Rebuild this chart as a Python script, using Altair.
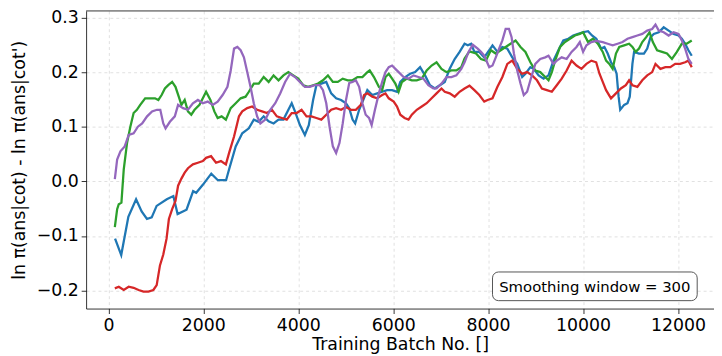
import altair as alt
import pandas as pd

# ---- data ----
blue_x = [140, 270, 420, 583, 700, 812, 912, 1016, 1230, 1368,
          1458, 1646, 1785, 1850, 1993, 2167, 2306, 2479, 2543, 2682,
          2820, 2959, 3063, 3167, 3271, 3376, 3480, 3584, 3688, 3792,
          3862, 3931, 4035, 4139, 4222, 4313, 4382, 4486, 4590, 4694,
          4798, 4902, 5006, 5074, 5144, 5199, 5283, 5456, 5560, 5664,
          5768, 5873, 5977, 6081, 6150, 6254, 6358, 6463, 6567, 6671,
          6775, 6879, 6983, 7087, 7191, 7296, 7400, 7504, 7573, 7642,
          7711, 7815, 7919, 8024, 8093, 8197, 8301, 8405, 8509, 8614,
          8718, 8787, 8891, 8961, 9065, 9169, 9273, 9377, 9481, 9585,
          9690, 9794, 9898, 10002, 10106, 10189, 10280, 10381, 10451, 10520,
          10590, 10659, 10708, 10750, 10784, 10867, 10937, 10985, 11041, 11076,
          11180, 11284, 11353, 11423, 11492, 11596, 11700, 11804, 11909, 12013,
          12082, 12152, 12221, 12291]
blue_y = [-0.105, -0.135, -0.065, -0.033, -0.055, -0.069, -0.066, -0.045, -0.033, -0.027,
          -0.06, -0.052, -0.018, -0.021, -0.006, 0.014, 0.002, 0.002, 0.022, 0.064,
          0.088, 0.097, 0.113, 0.109, 0.119, 0.11, 0.106, 0.113, 0.113, 0.131,
          0.143, 0.128, 0.103, 0.085, 0.103, 0.149, 0.176, 0.179, 0.182, 0.161,
          0.152, 0.149, 0.143, 0.134, 0.113, 0.106, 0.131, 0.167, 0.158, 0.161,
          0.164, 0.167, 0.167, 0.164, 0.182, 0.191, 0.197, 0.2, 0.209, 0.194,
          0.176, 0.17, 0.176, 0.182, 0.206, 0.224, 0.237, 0.252, 0.249, 0.252,
          0.237, 0.237, 0.227, 0.24, 0.249, 0.237, 0.246, 0.243, 0.227, 0.215,
          0.191, 0.197, 0.209, 0.206, 0.194, 0.188, 0.194, 0.221, 0.24, 0.258,
          0.261, 0.267, 0.27, 0.273, 0.275, 0.267, 0.261, 0.243, 0.246, 0.234,
          0.218, 0.209, 0.197, 0.155, 0.131, 0.14, 0.143, 0.155, 0.215, 0.237,
          0.234, 0.234, 0.243, 0.264, 0.27, 0.273, 0.282, 0.276, 0.27, 0.267,
          0.261, 0.252, 0.24, 0.23]

green_x = [135, 184, 218, 274, 323, 392, 462, 531, 600, 670,
           774, 878, 982, 1052, 1121, 1190, 1260, 1343, 1413, 1482,
           1538, 1607, 1676, 1746, 1815, 1919, 1989, 2058, 2149, 2232,
           2302, 2385, 2475, 2577, 2682, 2786, 2890, 2959, 3063, 3167,
           3271, 3376, 3480, 3584, 3688, 3792, 3896, 4000, 4104, 4208,
           4313, 4417, 4521, 4625, 4729, 4833, 4937, 5041, 5144, 5248,
           5352, 5456, 5505, 5595, 5699, 5768, 5838, 5907, 5977, 6046,
           6115, 6185, 6289, 6393, 6497, 6602, 6706, 6810, 6914, 7018,
           7122, 7226, 7331, 7435, 7504, 7608, 7746, 7850, 7954, 8058,
           8162, 8266, 8370, 8474, 8579, 8683, 8787, 8891, 8995, 9099,
           9204, 9273, 9343, 9412, 9516, 9620, 9724, 9829, 9933, 10002,
           10106, 10210, 10312, 10416, 10486, 10555, 10625, 10694, 10764, 10867,
           10971, 11041, 11110, 11180, 11249, 11332, 11402, 11471, 11561, 11666,
           11770, 11874, 11978, 12082, 12186, 12291]
green_y = [-0.084, -0.051, -0.042, -0.039, 0.022, 0.07, 0.1, 0.125, 0.131, 0.14,
           0.152, 0.152, 0.152, 0.149, 0.158, 0.17, 0.176, 0.182, 0.173, 0.155,
           0.14, 0.149, 0.128, 0.122, 0.131, 0.14, 0.152, 0.164, 0.149, 0.128,
           0.116, 0.119, 0.113, 0.134, 0.143, 0.152, 0.155, 0.164, 0.179, 0.179,
           0.191, 0.182, 0.194, 0.185, 0.194, 0.2, 0.194, 0.188, 0.176, 0.173,
           0.176, 0.179, 0.185, 0.194, 0.182, 0.182, 0.188, 0.185, 0.185, 0.191,
           0.191, 0.2, 0.203, 0.191, 0.173, 0.167, 0.191, 0.197, 0.188, 0.179,
           0.164, 0.182, 0.188, 0.185, 0.185, 0.188, 0.203, 0.212, 0.218, 0.206,
           0.2, 0.203, 0.203, 0.209, 0.225, 0.238, 0.234, 0.224, 0.221, 0.24,
           0.234, 0.24, 0.246, 0.252, 0.258, 0.246, 0.237, 0.218, 0.203, 0.2,
           0.191, 0.185, 0.2, 0.221, 0.246, 0.255, 0.261, 0.267, 0.27, 0.273,
           0.255, 0.261, 0.252, 0.237, 0.221, 0.215, 0.206, 0.234, 0.246, 0.249,
           0.252, 0.246, 0.237, 0.243, 0.255, 0.264, 0.273, 0.255, 0.24, 0.237,
           0.234, 0.224, 0.237, 0.252, 0.252, 0.258]

red_x = [135, 218, 323, 427, 531, 635, 739, 843, 947, 1017,
         1086, 1156, 1225, 1274, 1343, 1413, 1468, 1538, 1607, 1676,
         1780, 1885, 1989, 2058, 2163, 2267, 2371, 2475, 2543, 2647,
         2751, 2820, 2925, 3029, 3133, 3237, 3341, 3445, 3549, 3653,
         3758, 3862, 3966, 4070, 4174, 4278, 4382, 4486, 4590, 4694,
         4798, 4902, 5006, 5109, 5213, 5318, 5387, 5456, 5560, 5664,
         5768, 5838, 5907, 6011, 6081, 6150, 6240, 6324, 6393, 6497,
         6602, 6706, 6810, 6914, 7018, 7087, 7191, 7296, 7400, 7504,
         7608, 7711, 7815, 7919, 7989, 8093, 8197, 8301, 8405, 8509,
         8614, 8718, 8822, 8926, 9030, 9134, 9238, 9343, 9447, 9551,
         9655, 9759, 9863, 9968, 10072, 10176, 10277, 10347, 10416, 10486,
         10590, 10694, 10798, 10902, 10971, 11041, 11145, 11249, 11353, 11457,
         11527, 11631, 11735, 11839, 11943, 12047, 12152, 12221, 12291]
red_y = [-0.196, -0.193, -0.199, -0.193, -0.195, -0.199, -0.202, -0.202, -0.199, -0.19,
         -0.154, -0.134, -0.105, -0.069, -0.051, -0.036, -0.008, 0.005, 0.016, 0.024,
         0.031, 0.034, 0.037, 0.043, 0.046, 0.034, 0.037, 0.031, 0.052, 0.082,
         0.119, 0.128, 0.134, 0.137, 0.131, 0.128, 0.125, 0.131, 0.119, 0.116,
         0.113, 0.125, 0.125, 0.131, 0.119, 0.119, 0.116, 0.113, 0.122, 0.131,
         0.134, 0.131, 0.136, 0.131, 0.131, 0.14, 0.158, 0.161, 0.155, 0.152,
         0.158, 0.161, 0.152, 0.146, 0.137, 0.122, 0.116, 0.113, 0.122, 0.131,
         0.137, 0.143, 0.152, 0.161, 0.17, 0.164, 0.161, 0.155, 0.164, 0.17,
         0.175, 0.167, 0.158, 0.146, 0.149, 0.152, 0.173, 0.191, 0.215, 0.221,
         0.206, 0.197, 0.2, 0.194, 0.185, 0.17, 0.167, 0.164, 0.176, 0.188,
         0.203, 0.221, 0.212, 0.206, 0.215, 0.221, 0.218, 0.197, 0.182, 0.167,
         0.152, 0.161, 0.17, 0.176, 0.185, 0.176, 0.173, 0.185, 0.194, 0.2,
         0.215, 0.206, 0.209, 0.209, 0.215, 0.215, 0.218, 0.221, 0.209]

purple_x = [135, 184, 253, 343, 427, 531, 621, 711, 815, 919,
            1023, 1093, 1156, 1204, 1295, 1399, 1468, 1572, 1676, 1780,
            1885, 1989, 2093, 2197, 2302, 2406, 2508, 2577, 2647, 2716,
            2786, 2855, 2925, 2994, 3063, 3133, 3202, 3306, 3411, 3515,
            3619, 3723, 3827, 3931, 4035, 4139, 4243, 4347, 4452, 4521,
            4590, 4660, 4729, 4798, 4868, 4937, 5006, 5074, 5144, 5213,
            5283, 5352, 5421, 5491, 5546, 5616, 5699, 5768, 5838, 5907,
            5977, 6046, 6115, 6220, 6324, 6428, 6532, 6636, 6741, 6845,
            6914, 7018, 7122, 7226, 7331, 7435, 7504, 7588, 7677, 7781,
            7850, 7919, 8024, 8093, 8162, 8232, 8301, 8370, 8440, 8495,
            8544, 8614, 8683, 8752, 8822, 8891, 8995, 9099, 9204, 9273,
            9377, 9447, 9551, 9655, 9759, 9863, 9933, 10002, 10072, 10176,
            10280, 10416, 10520, 10625, 10729, 10833, 10937, 11041, 11145, 11249,
            11353, 11457, 11527, 11596, 11700, 11804, 11909, 12013, 12082, 12152,
            12221, 12291]
purple_y = [0.004, 0.04, 0.055, 0.064, 0.085, 0.088, 0.1, 0.106, 0.119, 0.128,
            0.131, 0.131, 0.106, 0.097, 0.109, 0.119, 0.14, 0.134, 0.131, 0.143,
            0.149, 0.143, 0.146, 0.14, 0.146, 0.158, 0.173, 0.203, 0.243, 0.246,
            0.24, 0.227, 0.2, 0.173, 0.143, 0.119, 0.106, 0.113, 0.131, 0.143,
            0.161, 0.182, 0.197, 0.191, 0.182, 0.173, 0.173, 0.176, 0.176, 0.167,
            0.143, 0.1, 0.064, 0.052, 0.07, 0.106, 0.149, 0.18, 0.182, 0.185,
            0.173, 0.143, 0.122, 0.116, 0.103, 0.131, 0.161, 0.182, 0.2, 0.209,
            0.212, 0.206, 0.2, 0.191, 0.188, 0.194, 0.191, 0.188, 0.176, 0.17,
            0.17, 0.179, 0.191, 0.191, 0.194, 0.206, 0.218, 0.237, 0.25, 0.243,
            0.237, 0.23, 0.209, 0.212, 0.227, 0.243, 0.258, 0.279, 0.279, 0.264,
            0.234, 0.203, 0.179, 0.158, 0.164, 0.185, 0.215, 0.224, 0.227, 0.23,
            0.215, 0.221, 0.227, 0.224, 0.237, 0.246, 0.255, 0.237, 0.249, 0.255,
            0.257, 0.255, 0.252, 0.249, 0.252, 0.255, 0.261, 0.264, 0.267, 0.27,
            0.276, 0.279, 0.287, 0.276, 0.273, 0.267, 0.273, 0.27, 0.258, 0.243,
            0.224, 0.215]

x_ticks = [0, 2000, 4000, 6000, 8000, 10000, 12000]
y_ticks = [-0.2, -0.1, 0.0, 0.1, 0.2, 0.3]
x_domain = [-470, 12760]
y_domain = [-0.233, 0.312]
annotation = "Smoothing window = 300"

series = [("blue", blue_x, blue_y, "#1f77b4"),
          ("green", green_x, green_y, "#2ca02c"),
          ("red", red_x, red_y, "#d62728"),
          ("purple", purple_x, purple_y, "#9467bd")]

W, H = 635, 301
FONT = "DejaVu Sans"

xscale = alt.Scale(domain=x_domain, nice=False, zero=False)
yscale = alt.Scale(domain=y_domain, nice=False, zero=False)

xaxis = alt.Axis(values=x_ticks, format="d", title="Training Batch No. []",
                 grid=True, titleY=27, titleFontSize=17.5, titleFontWeight="normal")
yaxis = alt.Axis(values=y_ticks, format=".1f", title="ln π(ans|cot) - ln π(ans|cot')",
                 grid=True, titleX=-58, titleY=H / 2, titleFontSize=17.5,
                 titleFontWeight="normal")

layers = []
for name, xs, ys, col in series:
    assert len(xs) == len(ys), name
    df = pd.DataFrame({"batch": xs, "val": ys})
    layers.append(
        alt.Chart(df).mark_line(color=col, strokeWidth=2.3, clip=True).encode(
            x=alt.X("batch:Q", scale=xscale, axis=xaxis),
            y=alt.Y("val:Q", scale=yscale, axis=yaxis))
    )

one = pd.DataFrame({"a": [0]})
top_spine = alt.Chart(one).mark_rule(color="black", strokeWidth=0.8).encode(
    x=alt.value(0), x2=alt.value(W), y=alt.value(0))
box = alt.Chart(one).mark_rect(fill="white", stroke="#444444", strokeWidth=1,
                               cornerRadius=6, opacity=0.9).encode(
    x=alt.value(411), x2=alt.value(618), y=alt.value(264), y2=alt.value(293))
label = alt.Chart(one).mark_text(text=annotation, font=FONT, fontSize=15, color="black",
                                 align="center", baseline="middle").encode(
    x=alt.value(514.5), y=alt.value(279))

chart = alt.layer(*layers, top_spine, box, label).properties(
    width=W, height=H,
    padding={"left": 79, "top": 1, "right": 0, "bottom": 46},
    autosize=alt.AutoSizeParams(type="none"),
).configure_view(stroke=None).configure_axis(
    labelFont=FONT, titleFont=FONT, labelFontSize=17.5, labelColor="black",
    titleColor="black", tickColor="black", tickSize=5, tickWidth=0.8,
    domainColor="black", domainWidth=0.8, labelPadding=3,
    gridColor="#d9d9d9", gridDash=[3, 3], gridWidth=0.8,
)

chart.save("out.html", embed_options={"renderer": "svg", "actions": False})
